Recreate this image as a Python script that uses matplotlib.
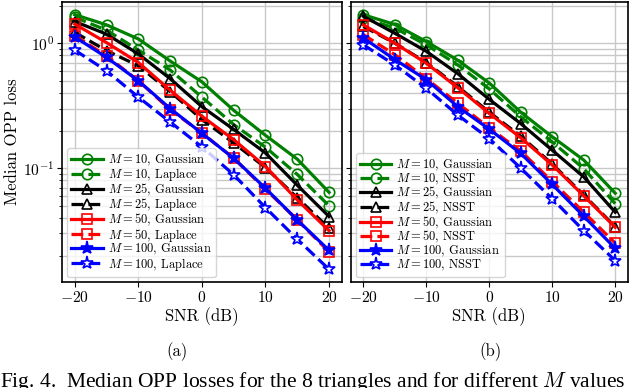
import matplotlib
matplotlib.use('Agg')
import matplotlib.pyplot as plt

plt.rcParams['font.family'] = ['cmr10', 'DejaVu Serif']
plt.rcParams['mathtext.fontset'] = 'cm'
plt.rcParams['axes.formatter.use_mathtext'] = True

snr = [-20, -15, -10, -5, 0, 5, 10, 15, 20]

# (a) Gaussian vs Laplace
a_m10_gauss = [1.69, 1.40, 1.08, 0.72, 0.49, 0.29, 0.183, 0.118, 0.064]
a_m10_lap = [1.61, 1.27, 0.88, 0.61, 0.37, 0.223, 0.147, 0.089, 0.050]
a_m25_gauss = [1.49, 1.18, 0.82, 0.52, 0.31, 0.204, 0.132, 0.073, 0.041]
a_m25_lap = [1.22, 0.87, 0.66, 0.41, 0.245, 0.159, 0.101, 0.058, 0.033]
a_m50_gauss = [1.42, 1.01, 0.70, 0.42, 0.26, 0.169, 0.103, 0.0557, 0.0316]
a_m50_lap = [1.15, 0.79, 0.50, 0.294, 0.191, 0.12, 0.0678, 0.0385, 0.0214]
a_m100_gauss = [1.12, 0.77, 0.50, 0.30, 0.19, 0.12, 0.069, 0.0385, 0.022]
a_m100_lap = [0.88, 0.60, 0.37, 0.234, 0.148, 0.0885, 0.0483, 0.027, 0.0155]

# (b) Gaussian vs NSST
b_m10_gauss = [1.69, 1.41, 1.03, 0.73, 0.48, 0.28, 0.178, 0.116, 0.063]
b_m10_nsst = [1.59, 1.32, 0.97, 0.67, 0.43, 0.257, 0.162, 0.099, 0.052]
b_m25_gauss = [1.64, 1.20, 0.86, 0.57, 0.355, 0.227, 0.139, 0.085, 0.0444]
b_m25_nsst = [1.36, 1.00, 0.70, 0.45, 0.28, 0.18, 0.108, 0.061, 0.034]
b_m50_gauss = [1.40, 1.00, 0.69, 0.44, 0.274, 0.175, 0.106, 0.060, 0.0336]
b_m50_nsst = [1.17, 0.81, 0.52, 0.33, 0.21, 0.137, 0.078, 0.0444, 0.0251]
b_m100_gauss = [1.10, 0.74, 0.51, 0.31, 0.205, 0.131, 0.074, 0.0412, 0.0228]
b_m100_nsst = [0.97, 0.67, 0.435, 0.266, 0.172, 0.10, 0.0568, 0.0316, 0.0182]

m_values = [10, 25, 50, 100]
colors = ['green', 'black', 'red', 'blue']
markers = ['o', '^', 's', '*']

fig = plt.figure(figsize=(6.4, 3.88), dpi=100)
ax1 = fig.add_axes([0.097, 0.273, 0.437, 0.722])
ax2 = fig.add_axes([0.548, 0.273, 0.433, 0.722], sharey=ax1)


def draw_panel(ax, gauss, other, other_name):
    for i, m in enumerate(m_values):
        c = colors[i]
        mk = markers[i]
        ms = 9.5 if mk == '*' else 7.5
        fill_solid = c if mk == '*' else 'none'
        fill_dash = 'white' if mk == '*' else 'none'
        ax.plot(snr, gauss[i], '-', color=c, marker=mk, markersize=ms, lw=2.3,
                markerfacecolor=fill_solid, markeredgewidth=1.2,
                label=r'$M=%d$, Gaussian' % m)
        ax.plot(snr, other[i], '--', color=c, marker=mk, markersize=ms, lw=2.3,
                markerfacecolor=fill_dash, markeredgewidth=1.2,
                label=r'$M=%d$, %s' % (m, other_name))
    ax.set_yscale('log')
    ax.set_xticks([-20, -10, 0, 10, 20])
    ax.grid(True, which='major', color='#c8c8c8', lw=1.0)
    ax.grid(True, which='minor', axis='y', color='#c8c8c8', lw=1.0)
    ax.set_axisbelow(True)
    ax.set_xlabel('SNR (dB)', fontsize=12, labelpad=2)
    ax.tick_params(labelsize=11.2, pad=2)
    for sp in ax.spines.values():
        sp.set_linewidth(1.2)
    ax.legend(loc='lower left', fontsize=9.0, handlelength=2.5, labelspacing=-0.12,
              borderpad=0.35, handletextpad=0.4, borderaxespad=0.4, framealpha=0.8)


draw_panel(ax1, [a_m10_gauss, a_m25_gauss, a_m50_gauss, a_m100_gauss],
           [a_m10_lap, a_m25_lap, a_m50_lap, a_m100_lap], 'Laplace')
draw_panel(ax2, [b_m10_gauss, b_m25_gauss, b_m50_gauss, b_m100_gauss],
           [b_m10_nsst, b_m25_nsst, b_m50_nsst, b_m100_nsst], 'NSST')

ax1.set_ylabel('Median OPP loss', fontsize=12, labelpad=2)
plt.setp(ax2.get_yticklabels(), visible=False)

fig.text(0.277, 0.093, '(a)', ha='center', va='center', fontsize=12)
fig.text(0.766, 0.093, '(b)', ha='center', va='center', fontsize=12)
fig.text(0.0, 0.046, 'Fig. 4.  Median OPP losses for the 8 triangles and for different $M$ values',
         ha='left', va='top', fontsize=15.5, family='Liberation Serif')

fig.savefig('out.png', dpi=100)
